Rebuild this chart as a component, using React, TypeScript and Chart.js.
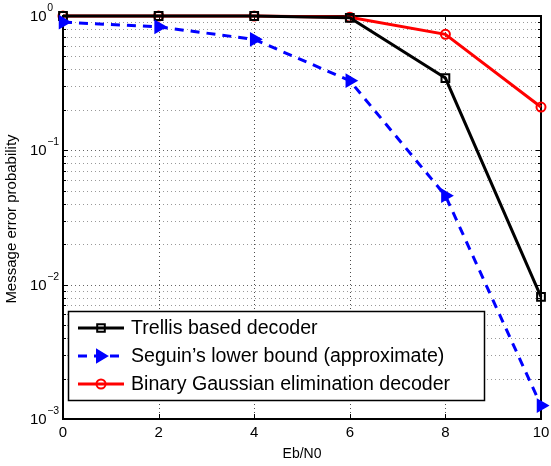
import React, { useEffect, useRef } from 'react';
import { Chart, registerables } from 'chart.js';
Chart.register(...registerables);

const ebN0 = [0, 2, 4, 6, 8, 10];
const trellis = [1, 1, 1, 0.97, 0.345, 0.0081];
const seguin = [0.9, 0.83, 0.67, 0.33, 0.046, 0.00126];
const binaryGauss = [1, 1, 1, 0.98, 0.73, 0.21];
const xTicks = [0, 2, 4, 6, 8, 10];
const yExponents = [-3, -2, -1, 0];
const seriesLabels = [
  'Trellis based decoder',
  'Seguin\u2019s lower bound (approximate)',
  'Binary Gaussian elimination decoder',
];
const xTitle = 'Eb/N0';
const yTitle = 'Message error probability';

const FONT = "'Liberation Sans', Arial, Helvetica, sans-serif";

function drawMarker(ctx: CanvasRenderingContext2D, kind: string, x: number, y: number, color: string) {
  ctx.save();
  ctx.setLineDash([]);
  ctx.strokeStyle = color;
  ctx.fillStyle = color;
  ctx.lineWidth = 2;
  ctx.beginPath();
  if (kind === 'rect') {
    ctx.rect(x - 3.8, y - 3.8, 7.6, 7.6);
    ctx.stroke();
  } else if (kind === 'tri') {
    ctx.moveTo(x + 6, y);
    ctx.lineTo(x - 4, y - 6);
    ctx.lineTo(x - 4, y + 6);
    ctx.closePath();
    ctx.fill();
    ctx.stroke();
  } else {
    ctx.arc(x, y, 4.5, 0, Math.PI * 2);
    ctx.stroke();
  }
  ctx.restore();
}

const axesPlugin = {
  id: 'matlabAxes',
  beforeDatasetsDraw(chart: any) {
    const { ctx, chartArea: a, scales } = chart;
    const xs = scales.x;
    const ys = scales.y;
    ctx.save();
    // grid
    ctx.lineWidth = 1;
    ctx.setLineDash([1, 3]);
    for (const t of xTicks) {
      const px = Math.round(xs.getPixelForValue(t)) + 0.5;
      if (t === xTicks[0] || t === xTicks[xTicks.length - 1]) continue;
      ctx.strokeStyle = 'rgba(0,0,0,0.7)';
      ctx.beginPath();
      ctx.moveTo(px, a.top);
      ctx.lineTo(px, a.bottom);
      ctx.stroke();
    }
    for (let e = yExponents[0]; e < yExponents[yExponents.length - 1]; e++) {
      for (let m = 1; m <= 9; m++) {
        if (e === yExponents[0] && m === 1) continue;
        const v = m * Math.pow(10, e);
        const py = Math.round(ys.getPixelForValue(v)) + 0.5;
        ctx.strokeStyle = m === 1 ? 'rgba(0,0,0,0.6)' : 'rgba(0,0,0,0.4)';
        ctx.beginPath();
        ctx.moveTo(a.left, py);
        ctx.lineTo(a.right, py);
        ctx.stroke();
      }
    }
    ctx.setLineDash([]);
    ctx.strokeStyle = '#000';
    // ticks
    for (const t of xTicks) {
      const px = Math.round(xs.getPixelForValue(t)) + 0.5;
      ctx.beginPath();
      ctx.moveTo(px, a.bottom);
      ctx.lineTo(px, a.bottom - 5);
      ctx.moveTo(px, a.top);
      ctx.lineTo(px, a.top + 5);
      ctx.stroke();
    }
    for (let e = yExponents[0]; e <= yExponents[yExponents.length - 1]; e++) {
      for (let m = 1; m <= 9; m++) {
        const v = m * Math.pow(10, e);
        if (e === yExponents[yExponents.length - 1] && m > 1) break;
        const py = Math.round(ys.getPixelForValue(v)) + 0.5;
        const len = m === 1 ? 5 : 3;
        ctx.beginPath();
        ctx.moveTo(a.left, py);
        ctx.lineTo(a.left + len, py);
        ctx.moveTo(a.right, py);
        ctx.lineTo(a.right - len, py);
        ctx.stroke();
      }
    }
    // box
    ctx.lineWidth = 2;
    ctx.strokeRect(Math.round(a.left), Math.round(a.top), Math.round(a.right - a.left), Math.round(a.bottom - a.top));
    // tick labels
    ctx.fillStyle = '#000';
    ctx.font = `15px ${FONT}`;
    ctx.textAlign = 'center';
    ctx.textBaseline = 'middle';
    for (const t of xTicks) {
      ctx.fillText(String(t), xs.getPixelForValue(t), a.bottom + 14);
    }
    for (const e of yExponents) {
      const py = ys.getPixelForValue(Math.pow(10, e));
      ctx.font = `15px ${FONT}`;
      ctx.textAlign = 'left';
      ctx.textBaseline = 'middle';
      ctx.fillText('10', 30, py + 1);
      const w = ctx.measureText('10').width;
      ctx.font = `10.5px ${FONT}`;
      ctx.fillText(e < 0 ? '\u2212' + Math.abs(e) : String(e), 30 + w + 0.5, py - 8);
    }
    // titles
    ctx.font = `14px ${FONT}`;
    ctx.textAlign = 'center';
    ctx.textBaseline = 'middle';
    ctx.fillText(xTitle, (a.left + a.right) / 2, 454);
    ctx.save();
    ctx.font = `15px ${FONT}`;
    ctx.translate(12, 219);
    ctx.rotate(-Math.PI / 2);
    ctx.fillText(yTitle, 0, 0);
    ctx.restore();
    ctx.restore();
  },
  afterDatasetsDraw(chart: any) {
    const { ctx } = chart;
    ctx.save();
    const bx = 68.5, by = 311.5, bw = 416, bh = 89;
    ctx.fillStyle = '#fff';
    ctx.fillRect(bx, by, bw, bh);
    ctx.strokeStyle = '#000';
    ctx.lineWidth = 1.5;
    ctx.setLineDash([]);
    ctx.strokeRect(bx, by, bw, bh);
    const rows = [328, 356, 384];
    const colors = ['#000000', '#0000ff', '#ff0000'];
    const markers = ['rect', 'tri', 'circle'];
    const dashes = [[], [9, 7], []];
    for (let i = 0; i < 3; i++) {
      const y = rows[i];
      ctx.strokeStyle = colors[i];
      ctx.lineWidth = 3;
      ctx.setLineDash(dashes[i]);
      ctx.beginPath();
      ctx.moveTo(78, y);
      ctx.lineTo(124, y);
      ctx.stroke();
      drawMarker(ctx, markers[i], 101, y, colors[i]);
      ctx.fillStyle = '#000';
      ctx.font = `19.6px ${FONT}`;
      ctx.textAlign = 'left';
      ctx.textBaseline = 'middle';
      ctx.fillText(seriesLabels[i], 131, y + 1);
    }
    ctx.restore();
  },
};

export default function App() {
  const ref = useRef<HTMLCanvasElement | null>(null);
  useEffect(() => {
    if (!ref.current) return;
    const mk = (label: string, data: number[], color: string, style: string, dash: number[], radius: number, fill: string, rotation = 0) => ({
      label,
      data: ebN0.map((x, i) => ({ x, y: data[i] })),
      borderColor: color,
      backgroundColor: 'rgba(255,255,255,0)',
      borderWidth: 3,
      borderDash: dash,
      pointStyle: style,
      pointRadius: radius,
      pointRotation: rotation,
      pointBorderWidth: 2,
      pointBorderColor: color,
      pointBackgroundColor: fill,
      tension: 0,
      clip: false,
    });
    const chart = new Chart(ref.current, {
      type: 'line',
      data: {
        datasets: [
          mk(seriesLabels[1], seguin, '#0000ff', 'triangle', [9, 7], 6.5, '#0000ff', 90),
          mk(seriesLabels[0], trellis, '#000000', 'rect', [], 5.5, 'rgba(255,255,255,0)'),
          mk(seriesLabels[2], binaryGauss, '#ff0000', 'circle', [], 4.5, 'rgba(255,255,255,0)'),
        ] as any,
      },
      options: {
        responsive: false,
        animation: false,
        devicePixelRatio: 1,
        layout: { padding: { left: 63, right: 10, top: 16, bottom: 47 } },
        plugins: { legend: { display: false }, tooltip: { enabled: false } },
        scales: {
          x: { type: 'linear', min: 0, max: 10, display: false },
          y: { type: 'logarithmic', min: 0.001, max: 1, display: false },
        },
      },
      plugins: [axesPlugin],
    });
    return () => chart.destroy();
  }, []);
  return (
    <div style={{ position: 'fixed', left: 0, top: 0, width: 551, height: 466, background: '#fff' }}>
      <canvas ref={ref} width={551} height={466} style={{ width: 551, height: 466 }} />
    </div>
  );
}
